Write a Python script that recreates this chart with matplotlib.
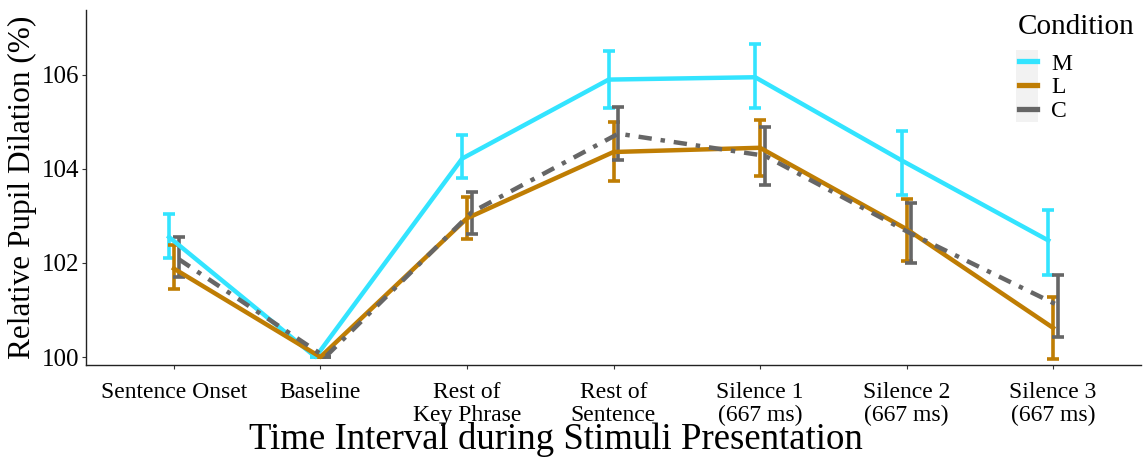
import numpy as np
from matplotlib import pyplot as plt
from matplotlib.lines import Line2D
from matplotlib.patches import Rectangle

###############################################################################
# Data
###############################################################################

intervals = ['Sentence Onset', 'Baseline', 'Rest of\nKey Phrase', 'Rest of\nSentence',
             'Silence 1\n(667 ms)', 'Silence 2\n(667 ms)', 'Silence 3\n(667 ms)']

m_mean = [102.55, 100.0, 104.22, 105.90, 105.95, 104.18, 102.48]
m_lo   = [102.10, 100.0, 103.80, 105.30, 105.30, 103.45, 101.75]
m_hi   = [103.05, 100.0, 104.72, 106.50, 106.65, 104.80, 103.13]

l_mean = [101.88, 100.0, 102.95, 104.36, 104.45, 102.72, 100.62]
l_lo   = [101.45, 100.0, 102.50, 103.75, 103.85, 102.05, 99.95]
l_hi   = [102.38, 100.0, 103.40, 105.00, 105.05, 103.36, 101.28]

c_mean = [102.08, 100.0, 103.08, 104.75, 104.28, 102.62, 101.10]
c_lo   = [101.70, 100.0, 102.62, 104.20, 103.65, 102.00, 100.42]
c_hi   = [102.55, 100.0, 103.50, 105.32, 104.90, 103.28, 101.75]

conditions = ['M', 'L', 'C']

###############################################################################
# Plotting
###############################################################################

plt.rcParams.update({'font.family': 'Liberation Serif'})

fig = plt.figure(figsize=(11.43, 4.58), dpi=100)
ax = fig.add_axes([86/1143, 93/458, 1055/1143, 355/458])

x = np.arange(len(intervals))
series = [(m_mean, m_lo, m_hi, '#33E4FF', '-', -0.033),
          (l_mean, l_lo, l_hi, '#BF7D03', '-', 0.0),
          (c_mean, c_lo, c_hi, '#666666', (0, (3, 2, 1, 2)), 0.033)]

for (mean, lo, hi, col, ls, off), name in zip(series, conditions):
    mean = np.array(mean); lo = np.array(lo); hi = np.array(hi)
    xs = x + off
    ax.errorbar(xs, mean, yerr=[mean - lo, hi - mean], fmt='none', ecolor=col,
                elinewidth=2.6, capsize=4, capthick=2.6, zorder=2)
    ax.plot(xs, mean, color=col, linestyle=ls, linewidth=3.2, zorder=3)

ax.set_xlim(-0.6, len(intervals) - 0.4)
ax.set_ylim(99.83, 107.38)
ax.set_xticks(x)
ax.set_xticklabels(intervals, fontsize=17, linespacing=1.12)
ax.set_yticks([100, 102, 104, 106])
ax.tick_params(axis='y', labelsize=18, length=3, color='#333333', pad=2)
ax.tick_params(axis='x', length=3, color='#333333', pad=9)

for s in ['top', 'right']:
    ax.spines[s].set_visible(False)
for s in ['left', 'bottom']:
    ax.spines[s].set_linewidth(1.0)
    ax.spines[s].set_color('#222222')

ax.set_ylabel('Relative Pupil Dilation (%)', fontsize=22.5, labelpad=3)
xl = ax.set_xlabel('Time Interval during Stimuli Presentation', fontsize=26.5)
xl.set_va('baseline')
ax.xaxis.set_label_coords(0.4455, -0.238)

# legend: title as text, entries below it on a light grey key strip
fig.text(1018/1143, 1 - 27/458, 'Condition', fontsize=21, ha='left', va='center')
fig.patches.append(Rectangle((1016/1143, 1 - 122/458), 22/1143, 72/458,
                             transform=fig.transFigure, facecolor='#F2F2F2',
                             edgecolor='none', zorder=0))
handles = [Line2D([0], [0], color=s[3], linewidth=3.8) for s in series]
leg = fig.legend(handles, conditions, loc='upper left',
                 bbox_to_anchor=(1019/1143, 1 - 53/458), frameon=False,
                 fontsize=17, handlelength=0.75, handletextpad=0.6,
                 labelspacing=0.1, borderaxespad=0, borderpad=0)

plt.savefig('out.png', dpi=100)
